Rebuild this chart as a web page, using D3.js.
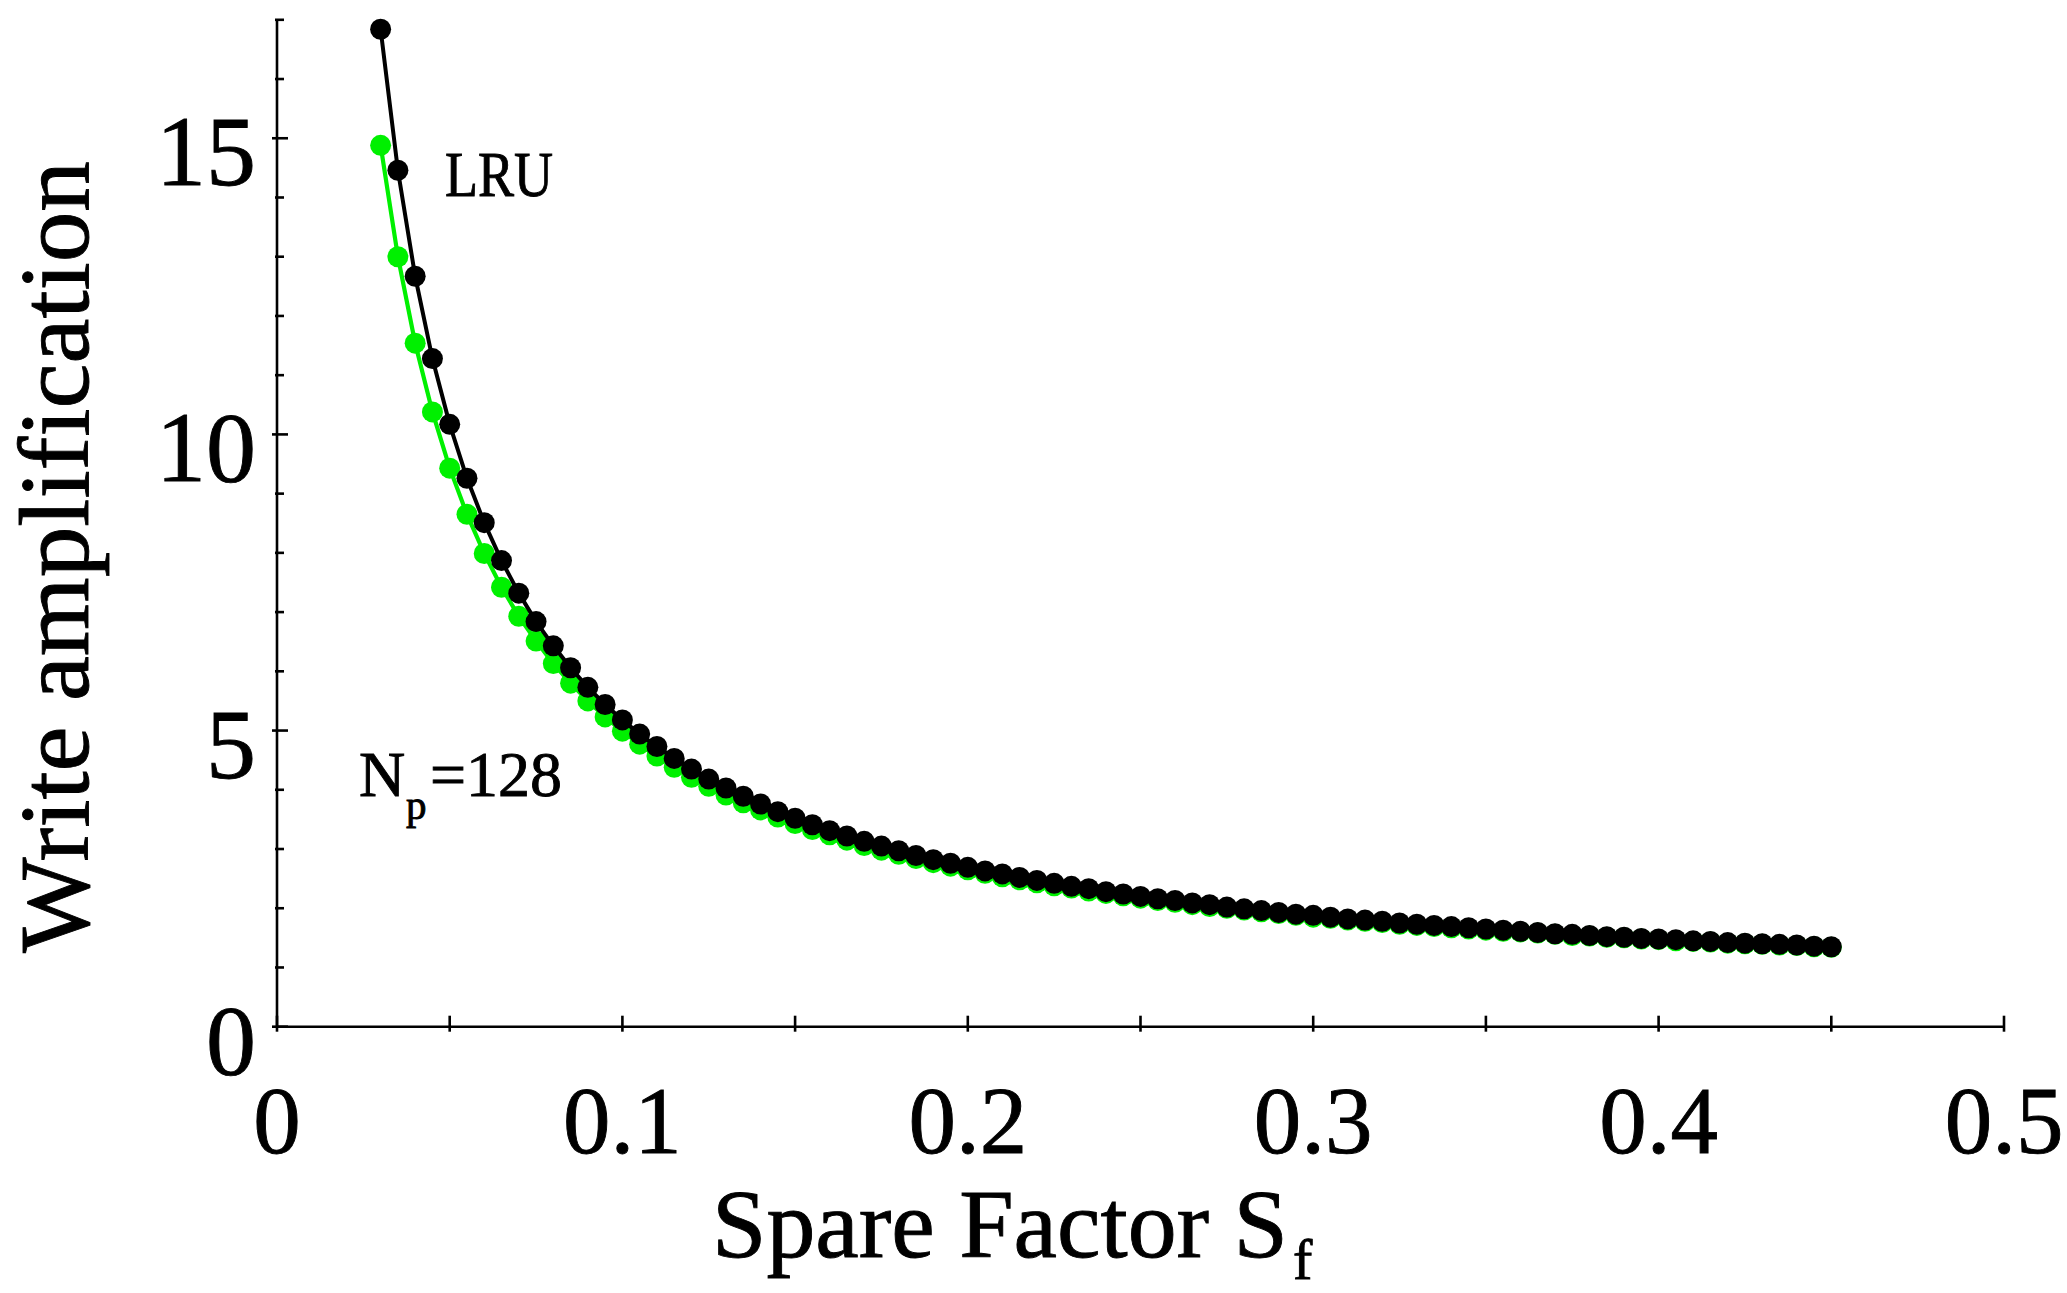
<!DOCTYPE html>
<html>
<head>
<meta charset="utf-8">
<script src="https://cdn.jsdelivr.net/npm/d3@7"></script>
<style>
  html, body { margin: 0; padding: 0; background: #fff; }
  svg { display: block; }
  text { font-family: "Liberation Serif", "Times New Roman", serif; fill: #000; stroke: #000; stroke-width: 0.9px; }
</style>
</head>
<body>
<div id="chart"></div>
<script>
// spare factor values (x)
var spareFactor = [0.030, 0.035, 0.040, 0.045, 0.050, 0.055, 0.060, 0.065, 0.070, 0.075,
    0.080, 0.085, 0.090, 0.095, 0.100, 0.105, 0.110, 0.115, 0.120, 0.125,
    0.130, 0.135, 0.140, 0.145, 0.150, 0.155, 0.160, 0.165, 0.170, 0.175,
    0.180, 0.185, 0.190, 0.195, 0.200, 0.205, 0.210, 0.215, 0.220, 0.225,
    0.230, 0.235, 0.240, 0.245, 0.250, 0.255, 0.260, 0.265, 0.270, 0.275,
    0.280, 0.285, 0.290, 0.295, 0.300, 0.305, 0.310, 0.315, 0.320, 0.325,
    0.330, 0.335, 0.340, 0.345, 0.350, 0.355, 0.360, 0.365, 0.370, 0.375,
    0.380, 0.385, 0.390, 0.395, 0.400, 0.405, 0.410, 0.415, 0.420, 0.425,
    0.430, 0.435, 0.440, 0.445, 0.450];

// LRU curve (black)
var lruWA = [16.84, 14.46, 12.67, 11.28, 10.17, 9.26, 8.51, 7.87, 7.32, 6.84,
    6.43, 6.06, 5.73, 5.44, 5.18, 4.94, 4.73, 4.53, 4.35, 4.18,
    4.03, 3.89, 3.76, 3.63, 3.52, 3.41, 3.31, 3.22, 3.13, 3.05,
    2.97, 2.89, 2.82, 2.76, 2.69, 2.63, 2.58, 2.52, 2.47, 2.42,
    2.37, 2.33, 2.28, 2.24, 2.20, 2.16, 2.13, 2.09, 2.06, 2.02,
    1.99, 1.96, 1.93, 1.90, 1.88, 1.85, 1.82, 1.80, 1.78, 1.75,
    1.73, 1.71, 1.69, 1.67, 1.65, 1.63, 1.61, 1.59, 1.57, 1.56,
    1.54, 1.52, 1.51, 1.49, 1.48, 1.47, 1.45, 1.44, 1.42, 1.41,
    1.40, 1.39, 1.38, 1.36, 1.35];

// Np=128 curve (green)
var npWA = [14.88, 13.00, 11.54, 10.38, 9.43, 8.65, 7.99, 7.42, 6.93, 6.51,
    6.13, 5.80, 5.50, 5.23, 4.99, 4.77, 4.57, 4.38, 4.21, 4.06,
    3.91, 3.78, 3.66, 3.54, 3.43, 3.33, 3.24, 3.15, 3.06, 2.98,
    2.91, 2.84, 2.77, 2.71, 2.65, 2.59, 2.53, 2.48, 2.43, 2.38,
    2.34, 2.29, 2.25, 2.21, 2.17, 2.13, 2.10, 2.06, 2.03, 2.00,
    1.97, 1.94, 1.91, 1.88, 1.85, 1.83, 1.80, 1.78, 1.76, 1.73,
    1.71, 1.69, 1.67, 1.65, 1.63, 1.61, 1.60, 1.58, 1.56, 1.54,
    1.53, 1.51, 1.50, 1.48, 1.47, 1.45, 1.44, 1.43, 1.41, 1.40,
    1.39, 1.38, 1.37, 1.35, 1.34];

var xTickLabels = ["0", "0.1", "0.2", "0.3", "0.4", "0.5"];
var yTickLabels = ["0", "5", "10", "15"];

var W = 2067, H = 1293;

var svg = d3.select("#chart").append("svg")
    .attr("width", W)
    .attr("height", H);

var x = d3.scaleLinear().domain([0, 0.5]).range([277, 2004]);
var y = d3.scaleLinear().domain([0, 17]).range([1026.7, 19.8]);

var x0 = x(0), y0 = y(0);

// ---- axes ----
var axes = svg.append("g").attr("stroke", "#000").attr("stroke-width", 2.6);

axes.append("line")
    .attr("x1", x0).attr("x2", x(0.5))
    .attr("y1", y0).attr("y2", y0);
axes.append("line")
    .attr("x1", x0).attr("x2", x0)
    .attr("y1", y0).attr("y2", y(17));

// x ticks every 0.05, crossing the axis
axes.selectAll(".xt")
    .data(x.ticks(10))
    .enter().append("line")
    .attr("x1", d => x(d)).attr("x2", d => x(d))
    .attr("y1", y0 - 11).attr("y2", y0 + 5);

// y ticks every 1, longer at multiples of 5
axes.selectAll(".yt")
    .data(y.ticks(17))
    .enter().append("line")
    .attr("y1", d => y(d)).attr("y2", d => y(d))
    .attr("x1", d => d % 5 === 0 ? x0 - 5 : x0 - 2)
    .attr("x2", d => d % 5 === 0 ? x0 + 11 : x0 + 7);

// tick labels
svg.selectAll(".xl")
    .data(xTickLabels)
    .enter().append("text")
    .attr("x", d => x(+d))
    .attr("y", 1153)
    .attr("text-anchor", "middle")
    .style("font-size", "95px")
    .text(d => d);

svg.selectAll(".yl")
    .data(yTickLabels)
    .enter().append("text")
    .attr("x", 256)
    .attr("y", d => y(+d) + 47)
    .attr("text-anchor", "end")
    .style("font-size", "100px")
    .text(d => d);

// axis titles
svg.append("text")
    .attr("transform", "translate(88,557) rotate(-90)")
    .attr("text-anchor", "middle")
    .attr("textLength", 792)
    .attr("lengthAdjust", "spacingAndGlyphs")
    .style("font-size", "100px")
    .text("Write amplification");

svg.append("text")
    .attr("x", 712).attr("y", 1257)
    .attr("textLength", 576)
    .attr("lengthAdjust", "spacingAndGlyphs")
    .style("font-size", "97px")
    .text("Spare Factor S");
svg.append("text")
    .attr("x", 1293).attr("y", 1279)
    .style("font-size", "58px")
    .text("f");

// ---- series ----
var green = "#00f000";

var lineGen = d3.line()
    .x(d => x(d[0]))
    .y(d => y(d[1]));

var greenPts = spareFactor.map((s, i) => [s, npWA[i]]);
var blackPts = spareFactor.map((s, i) => [s, lruWA[i]]);

function drawSeries(pts, color, lw) {
    var g = svg.append("g");
    g.append("path")
        .datum(pts)
        .attr("d", lineGen)
        .attr("fill", "none")
        .attr("stroke", color)
        .attr("stroke-width", lw);
    g.selectAll("circle")
        .data(pts)
        .enter().append("circle")
        .attr("cx", d => x(d[0]))
        .attr("cy", d => y(d[1]))
        .attr("r", 10.5)
        .attr("fill", color);
}

drawSeries(greenPts, green, 4.2);
drawSeries(blackPts, "#000", 4);

// ---- annotations ----
svg.append("text")
    .attr("x", 445).attr("y", 196)
    .attr("textLength", 108)
    .attr("lengthAdjust", "spacingAndGlyphs")
    .style("font-size", "64px")
    .text("LRU");

svg.append("text")
    .attr("x", 359).attr("y", 796)
    .style("font-size", "64px")
    .text("N");
svg.append("text")
    .attr("x", 406).attr("y", 819)
    .style("font-size", "41px")
    .text("p");
svg.append("text")
    .attr("x", 430).attr("y", 796)
    .attr("textLength", 132)
    .attr("lengthAdjust", "spacingAndGlyphs")
    .style("font-size", "64px")
    .text("=128");
</script>
</body>
</html>
